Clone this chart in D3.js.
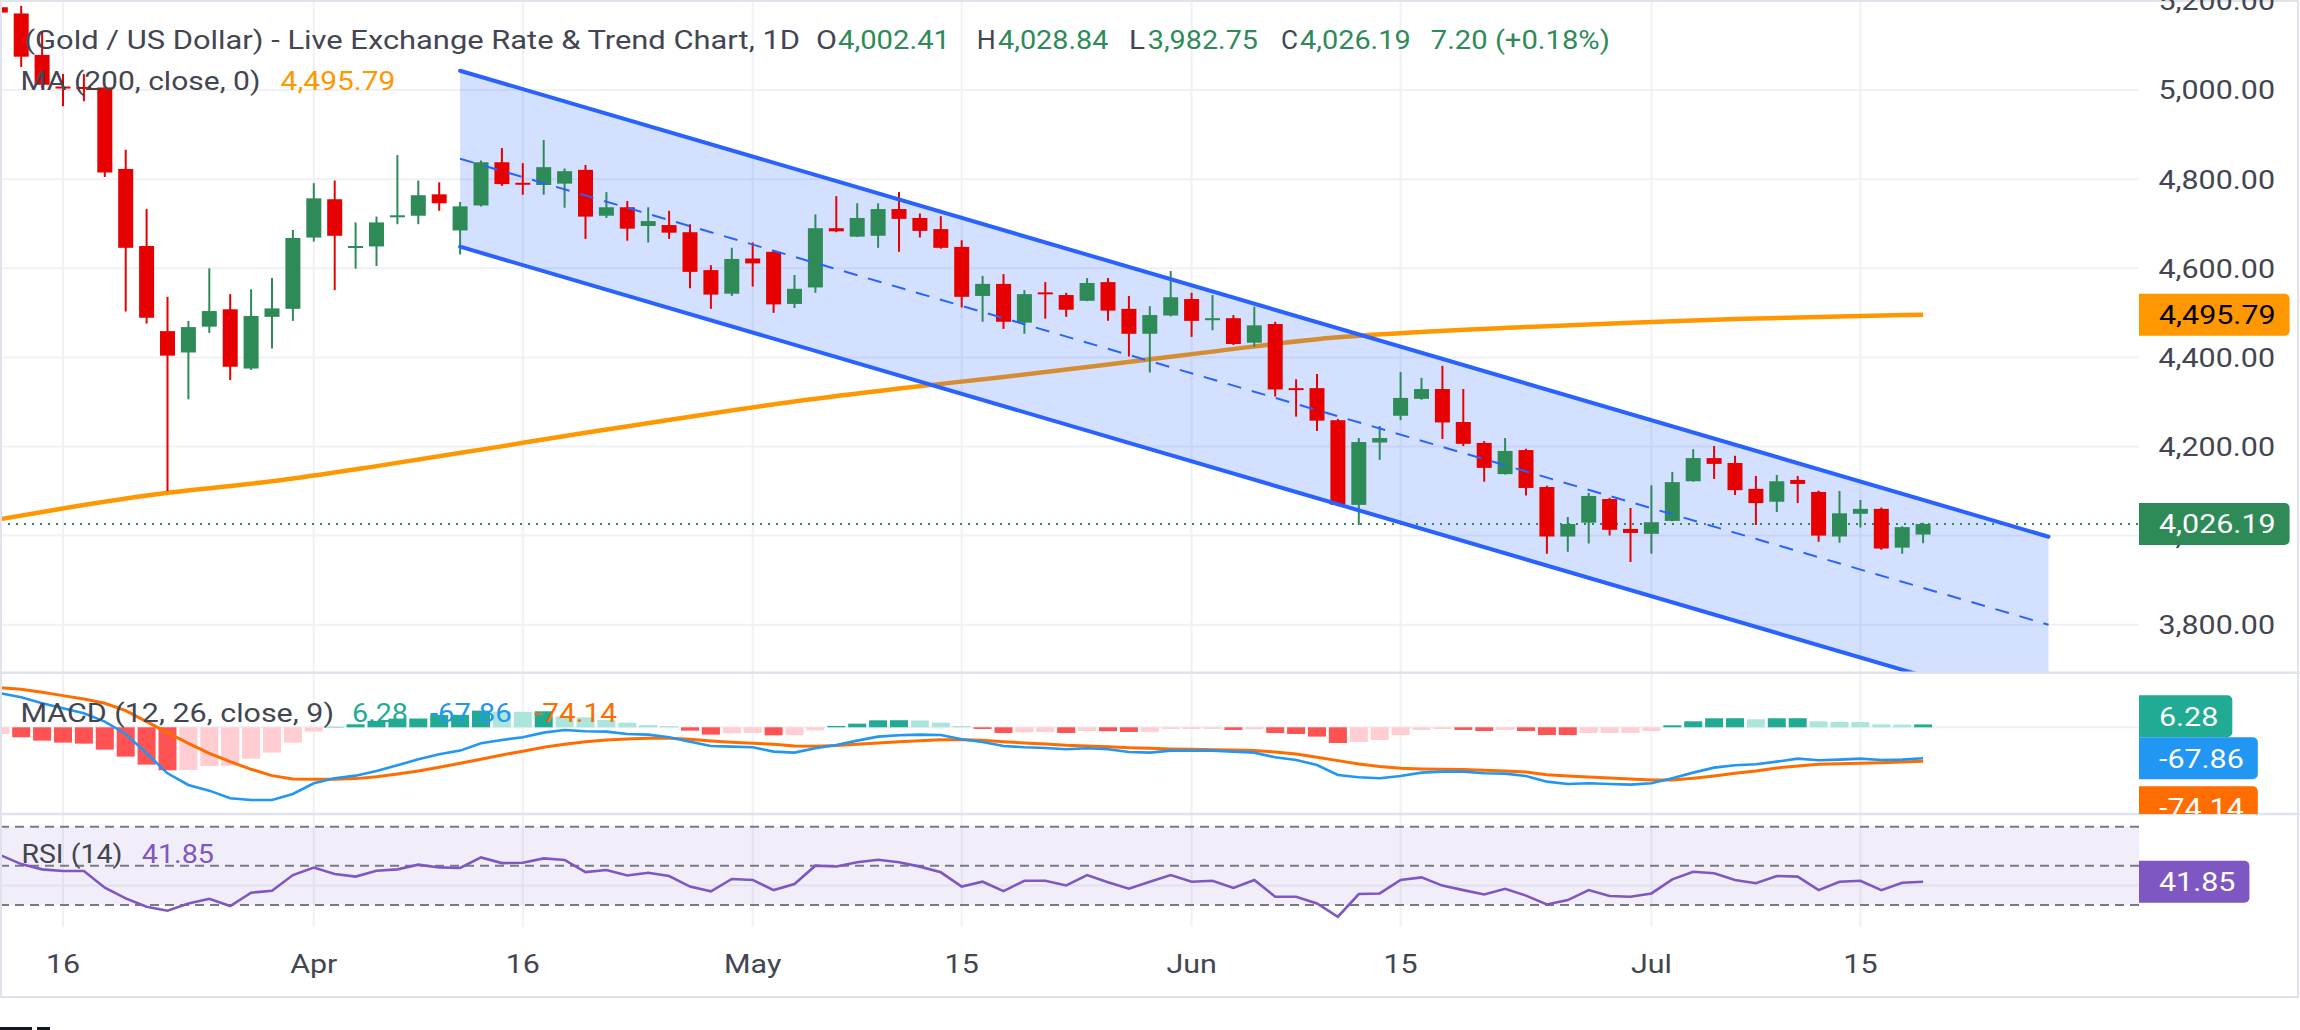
<!DOCTYPE html>
<html lang="en">
<head>
<meta charset="UTF-8">
<title>Gold / US Dollar - Daily</title>
<script src="https://cdn.jsdelivr.net/npm/d3@7/dist/d3.min.js"></script>
<style>
  body { margin: 0; background: #fff; }
  svg { display: block; font-family: Roboto, "Noto Sans", sans-serif; font-size: 26px; }
</style>
</head>
<body>
<svg id="chart" width="2300" height="1030"></svg>
<script>
// trading days shown on the chart (2026)
const dates = [
  "2026-03-11","2026-03-12","2026-03-13","2026-03-16","2026-03-17","2026-03-18","2026-03-19","2026-03-20",
  "2026-03-23","2026-03-24","2026-03-25","2026-03-26","2026-03-27","2026-03-30","2026-03-31",
  "2026-04-01","2026-04-02","2026-04-06","2026-04-07","2026-04-08","2026-04-09","2026-04-10","2026-04-13",
  "2026-04-14","2026-04-15","2026-04-16","2026-04-17","2026-04-20","2026-04-21","2026-04-22","2026-04-23",
  "2026-04-24","2026-04-27","2026-04-28","2026-04-29","2026-04-30",
  "2026-05-01","2026-05-04","2026-05-05","2026-05-06","2026-05-07","2026-05-08","2026-05-11","2026-05-12",
  "2026-05-13","2026-05-14","2026-05-15","2026-05-18","2026-05-19","2026-05-20","2026-05-21","2026-05-22",
  "2026-05-25","2026-05-26","2026-05-27","2026-05-28","2026-05-29",
  "2026-06-01","2026-06-02","2026-06-03","2026-06-04","2026-06-05","2026-06-08","2026-06-09","2026-06-10",
  "2026-06-11","2026-06-12","2026-06-15","2026-06-16","2026-06-17","2026-06-18","2026-06-19","2026-06-22",
  "2026-06-23","2026-06-24","2026-06-25","2026-06-26","2026-06-29","2026-06-30",
  "2026-07-01","2026-07-02","2026-07-03","2026-07-06","2026-07-07","2026-07-08","2026-07-09","2026-07-10",
  "2026-07-13","2026-07-14","2026-07-15","2026-07-16","2026-07-17","2026-07-20"
];
// empty future slots the channel drawing runs into
const futureDates = ["2026-07-21","2026-07-22","2026-07-23","2026-07-24","2026-07-27","2026-07-28"];

const opens = [
  5186, 5172, 5079, 5008, 5007, 5006, 4823, 4650, 4459, 4411, 4469, 4508, 4375, 4491, 4509,
  4669, 4755, 4646, 4649, 4715, 4718, 4766, 4685, 4741, 4838, 4792, 4787, 4790, 4821, 4718, 4737, 4695, 4697, 4681, 4596, 4543,
  4622, 4637, 4520, 4557, 4690, 4671, 4673, 4733, 4713, 4688, 4648, 4538, 4565, 4478, 4546, 4540, 4527, 4569, 4509, 4453, 4494,
  4531, 4484, 4488, 4433, 4475, 4331, 4331, 4259, 4069, 4209, 4269, 4307, 4329, 4255, 4208, 4138, 4192, 4109, 3998, 4029, 4082, 4015,
  4004, 4033, 4122, 4174, 4163, 4105, 4076, 4125, 4098, 3998, 4049, 4060, 3973, 4002.41
];
const highs = [
  5190, 5189, 5131, 5036, 5036, 5010, 4866, 4733, 4536, 4482, 4600, 4542, 4553, 4578, 4686,
  4791, 4797, 4703, 4716, 4854, 4797, 4793, 4749, 4842, 4870, 4836, 4888, 4824, 4832, 4771, 4751, 4737, 4729, 4699, 4607, 4646,
  4658, 4640, 4585, 4721, 4762, 4746, 4746, 4771, 4723, 4717, 4663, 4583, 4587, 4551, 4569, 4545, 4578, 4578, 4538, 4515, 4594,
  4545, 4540, 4495, 4514, 4480, 4351, 4363, 4262, 4219, 4246, 4367, 4354, 4381, 4329, 4212, 4219, 4195, 4112, 4042, 4096, 4085, 4062,
  4113, 4143, 4194, 4201, 4179, 4134, 4136, 4134, 4101, 4100, 4080, 4063, 4021, 4028.84
];
const lows = [
  5168, 5052, 5005, 4964, 4975, 4805, 4503, 4476, 4100, 4306, 4455, 4349, 4372, 4420, 4482,
  4660, 4551, 4599, 4605, 4699, 4699, 4729, 4631, 4739, 4785, 4765, 4765, 4736, 4666, 4713, 4662, 4658, 4666, 4555, 4509, 4538,
  4559, 4500, 4511, 4545, 4681, 4670, 4646, 4637, 4669, 4644, 4512, 4480, 4464, 4453, 4487, 4491, 4526, 4482, 4402, 4366, 4492,
  4446, 4461, 4428, 4424, 4312, 4267, 4235, 4066, 4024, 4170, 4259, 4305, 4217, 4201, 4121, 4137, 4090, 3959, 3964, 3982, 4000, 3941,
  3959, 4032, 4121, 4127, 4091, 4024, 4053, 4073, 3986, 3984, 4018, 3968, 3959, 3982.75
];
const closes = [
  5174, 5075, 5012, 5005, 5004, 4815, 4646, 4489, 4404, 4468, 4504, 4379, 4493, 4510, 4668,
  4757, 4673, 4650, 4703, 4719, 4764, 4746, 4739, 4838, 4789, 4790, 4827, 4818, 4716, 4737, 4689, 4706, 4680, 4592, 4541, 4621,
  4611, 4519, 4554, 4690, 4683, 4713, 4733, 4711, 4684, 4646, 4536, 4565, 4480, 4542, 4544, 4507, 4567, 4505, 4453, 4495, 4535,
  4482, 4488, 4430, 4472, 4328, 4328, 4258, 4069, 4210, 4219, 4309, 4329, 4254, 4206, 4152, 4190, 4107, 3998, 4026, 4089, 4013, 4006,
  4030, 4120, 4174, 4161, 4102, 4073, 4122, 4116, 4000, 4050, 4060, 3971, 4018.99, 4026.19
];

// 200-day moving average, read at a few dates
const maDates = ["2026-03-11","2026-03-16","2026-03-23","2026-03-30","2026-04-07","2026-04-14","2026-04-21",
  "2026-04-28","2026-05-05","2026-05-12","2026-05-19","2026-05-26","2026-06-02","2026-06-09","2026-06-16",
  "2026-06-23","2026-06-30","2026-07-07","2026-07-14","2026-07-20"];
const maValues = [4037, 4061, 4096, 4122, 4156, 4193, 4231, 4267, 4301, 4330, 4356, 4384, 4413, 4441, 4457,
  4468, 4478, 4486, 4492, 4495.79];

// descending parallel channel drawing
const channelDates = ["2026-04-13", "2026-07-28"];
const channelUpper = [5043.5, 3997.5];
const channelMid = [4846, 3800];
const channelLower = [4648.5, 3602.5];

// MACD (12, 26, close, 9)
const macdLine = [
  74.4, 65.6, 52.5, 41.6, 30.6, 12.4, -14.6, -56.9, -100.7, -126.2, -138.6, -155.4, -159, -159, -145.9,
  -122.5, -111.6, -105.8, -95.5, -83.2, -70, -59, -51, -35, -27.7, -21.9, -11.7, -5.8, -8.8, -9.5, -14.6, -16, -21.9, -31.4, -40.8, -42.3,
  -43.8, -53.2, -55.4, -46, -38.7, -29.2, -20.4, -17.5, -16, -16.8, -26.3, -32, -40.8, -43.8, -45.2, -48.1, -46, -48.1, -54, -55.4, -51,
  -51, -51, -53.2, -55.4, -65.6, -71.5, -82.4, -104.3, -109.4, -111.6, -106.5, -99.2, -97, -97, -100.7, -101.4, -106.5, -118.9, -124, -122.5, -124, -125.5,
  -122.5, -111.6, -99.2, -88.3, -83.2, -81, -75.1, -68.6, -72.2, -70.8, -68.6, -71.5, -70.8, -67.86
];
const signalLine = [
  86.8, 83.2, 76.6, 69.3, 62, 52.5, 36.5, 12.4, -11.7, -35, -56.9, -75.1, -91.9, -105.8, -113,
  -113.8, -113.8, -112.3, -108, -102, -95.5, -87.5, -78.8, -70, -60.5, -52.5, -43.8, -37.2, -31.4, -27.7, -25.5, -24.1, -24.1, -26.3, -29.9, -32.8,
  -35, -37.2, -40.8, -41.6, -40, -37.2, -34.3, -31.4, -29.2, -27, -27, -28.4, -31.4, -34.3, -36.5, -39.4, -40.8, -42.3, -44.5, -46, -47.4,
  -48.1, -48.9, -49.6, -51, -54, -58.4, -65.6, -72.9, -80.2, -86, -89.7, -91.2, -91.9, -92.6, -94.1, -95.5, -97.7, -103.6, -106.5, -108.7, -110.9, -113,
  -115.2, -115.2, -111.6, -106.5, -100.7, -95.5, -89, -84.6, -81, -79.5, -78.8, -77.3, -75.9, -74.14
];
const macdHist = [
  -14.6, -21.9, -29.2, -33.5, -35.7, -48.9, -64.2, -81.7, -94.1, -93.4, -85, -84, -68.6, -55.4, -33.5,
  -9.5, 1, 6.6, 13.9, 19, 19.2, 27, 27.2, 36.5, 34.3, 34, 35, 23.3, 21.9, 16, 10.2, 5.1, 2.9, -7.3, -16, -13.1,
  -12.5, -17.5, -17, -6.6, 3, 8, 15.3, 15.5, 15, 10.2, 2.9, -3.6, -12.4, -11, -10.5, -12.4, -8, -8.5, -10.2, -10, -3.6,
  -3.5, -3.4, -5.8, -4.4, -12.4, -14.6, -20.4, -34.3, -32, -27.7, -16.8, -5.8, -3.6, -5.8, -8, -5.8, -8, -16.8, -17, -12.4, -12.3, -12.2,
  -8, 4.4, 13.1, 19.7, 19.9, 17.5, 19.7, 19.9, 13.1, 11.7, 11.5, 6.6, 6.0, 6.28
];

// RSI (14)
const rsiValues = [
  55.5, 50.9, 48.2, 47.4, 47.4, 38.8, 33.4, 29.1, 27.1, 30.8, 33.2, 29.5, 36.3, 37.3, 45.3,
  49.1, 45.8, 44.5, 47.5, 48.2, 50.6, 49.2, 48.9, 54.3, 51.4, 51.6, 53.8, 53, 46.8, 47.9, 45.1, 46.5, 44.8, 39.4, 37, 43.3,
  42.8, 37.6, 40.7, 50.1, 49.7, 51.8, 53.1, 51.8, 49.6, 46.7, 39.4, 41.9, 37.1, 42.4, 42.4, 40, 45.3, 41.6, 38.3, 41.9, 45.3,
  41.9, 42.4, 38.7, 42.8, 34.2, 34.2, 30.8, 24, 35.6, 35.9, 42.8, 44.1, 39.9, 37.6, 35.4, 38.3, 34.8, 30.3, 32.5, 37.6, 34.6, 34.2,
  35.9, 43.1, 47, 46.2, 42.8, 41.1, 44.8, 44.5, 37.6, 41.9, 42.4, 37.6, 41.4, 41.85
];

const timeTickDates = ["2026-03-16","2026-04-01","2026-04-16","2026-05-01","2026-05-15","2026-06-01","2026-06-15","2026-07-01","2026-07-15"];
const timeTickLabels = ["16", "Apr", "16", "May", "15", "Jun", "15", "Jul", "15"];
const priceTicks = [3800, 4000, 4200, 4400, 4600, 4800, 5000, 5200];

// ---------- layout ----------
const plotRight = 2139;
const mainBottom = 672.7, macdBottom = 814, rsiBottom = 927, axisBottom = 997;
const K = 1.17;              // horizontal stretch of the screenshot text
const textGray = "#434651", gridColor = "#eff1f5", sepColor = "#e0e3eb";
const upColor = "#2e8b57", downColor = "#e60000";
const fmt = d3.format(",.2f");

const svg = d3.select("#chart");

const x = d3.scalePoint().domain(dates.concat(futureDates)).range([0.3, 2048.5]);
const yPrice = d3.scaleLinear().domain([3800, 4600]).range([624.7, 268.3]);
const yMacd = d3.scaleLinear().domain([-100, 0]).range([773, 727.3]);
const yRsi = d3.scaleLinear().domain([30, 70]).range([905, 826.7]);

const bars = dates.map((d, i) => ({ date: d, o: opens[i], h: highs[i], l: lows[i], c: closes[i] }));

function stretch(sel) {
  sel.each(function () {
    const w = this.getComputedTextLength();
    d3.select(this).attr("textLength", w * K).attr("lengthAdjust", "spacingAndGlyphs");
  });
  return sel;
}

const defs = svg.append("defs");
[["clipMain", 0, mainBottom], ["clipMacd", mainBottom, macdBottom], ["clipRsi", macdBottom, rsiBottom]]
  .forEach(([id, y0, y1]) => {
    defs.append("clipPath").attr("id", id).append("rect")
      .attr("x", 0).attr("y", y0).attr("width", plotRight).attr("height", y1 - y0);
  });
defs.append("clipPath").attr("id", "clipMacdAxis").append("rect")
  .attr("x", 0).attr("y", mainBottom).attr("width", 2300).attr("height", macdBottom - mainBottom);

// ---------- grid ----------
const grid = svg.append("g").attr("stroke", gridColor).attr("stroke-width", 2);
grid.selectAll(".hg").data(priceTicks).join("line")
  .attr("x1", 0).attr("x2", plotRight)
  .attr("y1", d => yPrice(d)).attr("y2", d => yPrice(d))
  .attr("clip-path", "url(#clipMain)");
grid.selectAll(".vg").data(timeTickDates).join("line")
  .attr("x1", d => x(d)).attr("x2", d => x(d))
  .attr("y1", 0).attr("y2", rsiBottom);
grid.append("line").attr("x1", 0).attr("x2", plotRight).attr("y1", yMacd(0)).attr("y2", yMacd(0));
grid.append("line").attr("x1", 0).attr("x2", plotRight).attr("y1", yRsi(40)).attr("y2", yRsi(40));

// ---------- main pane ----------
const main = svg.append("g").attr("clip-path", "url(#clipMain)");

const maPts = maDates.map((d, i) => ({ date: d, v: maValues[i] }));
main.append("path")
  .attr("d", d3.line().x(d => x(d.date)).y(d => yPrice(d.v)).curve(d3.curveMonotoneX)(maPts))
  .attr("fill", "none").attr("stroke", "#ff9800").attr("stroke-width", 4.5);

const chX0 = x(channelDates[0]), chX1 = x(channelDates[1]);
main.append("path")
  .attr("d", `M${chX0},${yPrice(channelUpper[0])}L${chX1},${yPrice(channelUpper[1])}` +
             `L${chX1},${yPrice(channelLower[1])}L${chX0},${yPrice(channelLower[0])}Z`)
  .attr("fill", "rgba(41,98,255,0.2)");

main.append("line")
  .attr("x1", 0).attr("x2", plotRight)
  .attr("y1", yPrice(closes[closes.length - 1])).attr("y2", yPrice(closes[closes.length - 1]))
  .attr("stroke", upColor).attr("stroke-width", 2).attr("stroke-dasharray", "2,6");

const candle = main.selectAll(".candle").data(bars).join("g")
  .attr("fill", d => d.c >= d.o ? upColor : downColor)
  .attr("stroke", d => d.c >= d.o ? upColor : downColor);
candle.append("line")
  .attr("x1", d => x(d.date)).attr("x2", d => x(d.date))
  .attr("y1", d => yPrice(d.h)).attr("y2", d => yPrice(d.l))
  .attr("stroke-width", 2);
candle.append("rect")
  .attr("stroke", "none")
  .attr("x", d => x(d.date) - 7.5).attr("width", 15)
  .attr("y", d => yPrice(Math.max(d.o, d.c)))
  .attr("height", d => Math.max(2, Math.abs(yPrice(d.o) - yPrice(d.c))));

[channelUpper, channelLower].forEach(ch => {
  main.append("line")
    .attr("x1", chX0).attr("y1", yPrice(ch[0])).attr("x2", chX1).attr("y2", yPrice(ch[1]))
    .attr("stroke", "#2962ff").attr("stroke-width", 4).attr("stroke-linecap", "round");
});
main.append("line")
  .attr("x1", chX0).attr("y1", yPrice(channelMid[0])).attr("x2", chX1).attr("y2", yPrice(channelMid[1]))
  .attr("stroke", "#2962ff").attr("stroke-width", 2).attr("stroke-dasharray", "14,11");

// ---------- MACD pane ----------
const macdG = svg.append("g").attr("clip-path", "url(#clipMacd)");
function histColor(i) {
  const v = macdHist[i], prev = i > 0 ? macdHist[i - 1] : -Infinity;
  if (v >= 0) return prev < v ? "#22ab94" : "#ace5dc";
  return prev < v ? "#ffcdd2" : "#ff5252";
}
macdG.selectAll(".hist").data(macdHist).join("rect")
  .attr("x", (d, i) => x(dates[i]) - 9).attr("width", 18)
  .attr("y", d => Math.min(yMacd(d), yMacd(0)))
  .attr("height", d => Math.abs(yMacd(d) - yMacd(0)))
  .attr("fill", (d, i) => histColor(i));
[[signalLine, "#ff6d00", 3], [macdLine, "#2196f3", 2.6]].forEach(([arr, col, w]) => {
  macdG.append("path")
    .attr("d", d3.line().x((d, i) => x(dates[i])).y(d => yMacd(d))(arr))
    .attr("fill", "none").attr("stroke", col).attr("stroke-width", w);
});

// ---------- RSI pane ----------
const rsiG = svg.append("g").attr("clip-path", "url(#clipRsi)");
rsiG.append("rect")
  .attr("x", 0).attr("width", plotRight)
  .attr("y", yRsi(70)).attr("height", yRsi(30) - yRsi(70))
  .attr("fill", "rgba(126,87,194,0.1)");
rsiG.selectAll(".band").data([70, 50, 30]).join("line")
  .attr("x1", 0).attr("x2", plotRight)
  .attr("y1", d => yRsi(d)).attr("y2", d => yRsi(d))
  .attr("stroke", "#787b86").attr("stroke-width", 2).attr("stroke-dasharray", "9,6");
rsiG.append("path")
  .attr("d", d3.line().x((d, i) => x(dates[i])).y(d => yRsi(d))(rsiValues))
  .attr("fill", "none").attr("stroke", "#7e57c2").attr("stroke-width", 2.6);

// ---------- separators & frame ----------
[mainBottom, macdBottom].forEach(y => {
  svg.append("line").attr("x1", 0).attr("x2", 2300).attr("y1", y).attr("y2", y)
    .attr("stroke", sepColor).attr("stroke-width", 2.5);
});
svg.append("rect").attr("x", 1).attr("y", 1).attr("width", 2297).attr("height", axisBottom - 1)
  .attr("fill", "none").attr("stroke", sepColor).attr("stroke-width", 2);

// ---------- time axis ----------
stretch(svg.append("g").selectAll("text").data(timeTickDates).join("text")
  .attr("x", d => x(d)).attr("y", 973.3)
  .attr("text-anchor", "middle").attr("fill", textGray)
  .text((d, i) => timeTickLabels[i]));

// ---------- price axis ----------
stretch(svg.append("g").selectAll("text").data(priceTicks).join("text")
  .attr("x", 2275).attr("y", d => yPrice(d) + 9.3)
  .attr("text-anchor", "end").attr("fill", textGray)
  .text(d => fmt(d)));

function badge(parent, yc, label, fill, color) {
  const g = parent.append("g");
  const t = g.append("text").attr("y", yc + 9.3).attr("text-anchor", "end").attr("fill", color).text(label);
  const w = t.node().getComputedTextLength() * K;
  t.attr("textLength", w).attr("lengthAdjust", "spacingAndGlyphs");
  const x0 = plotRight, x1 = plotRight + 20 + w + 14, y0 = yc - 21, y1 = yc + 21, r = 5;
  g.insert("path", "text")
    .attr("d", `M${x0},${y0}H${x1 - r}A${r},${r} 0 0 1 ${x1},${y0 + r}V${y1 - r}A${r},${r} 0 0 1 ${x1 - r},${y1}H${x0}Z`)
    .attr("fill", fill);
  t.attr("x", x1 - 14);
}

const lastMa = maValues[maValues.length - 1];
const lastClose = closes[closes.length - 1];
badge(svg, yPrice(lastMa), fmt(lastMa), "#ff9800", "#000");
badge(svg, yPrice(lastClose), fmt(lastClose), upColor, "#fff");

const macdAxis = svg.append("g").attr("clip-path", "url(#clipMacdAxis)");
const lastMacd = macdLine[macdLine.length - 1];
const lastSignal = signalLine[signalLine.length - 1];
const lastHist = macdHist[macdHist.length - 1];
const macdY = yMacd(lastMacd);
badge(macdAxis, macdY - 42, lastHist.toFixed(2), "#22ab94", "#fff");
badge(macdAxis, macdY, lastMacd.toFixed(2), "#2196f3", "#fff");
badge(macdAxis, macdY + 49, lastSignal.toFixed(2), "#ff6d00", "#fff");

const lastRsi = rsiValues[rsiValues.length - 1];
badge(svg, yRsi(lastRsi), lastRsi.toFixed(2), "#7e57c2", "#fff");

// ---------- legends ----------
function legend(y, parts) {
  parts.forEach(p => {
    svg.append("text").attr("x", p.x).attr("y", y).attr("fill", p.color)
      .attr("textLength", p.w).attr("lengthAdjust", "spacingAndGlyphs").text(p.text);
  });
}
const last = bars[bars.length - 1];
const prevClose = closes[closes.length - 2];
const chg = last.c - prevClose;
legend(48.5, [
  { text: "(Gold / US Dollar) - Live Exchange Rate & Trend Chart, 1D", x: 24.5, w: 775.5, color: textGray },
  { text: "O", x: 816, w: 21, color: textGray },
  { text: fmt(last.o), x: 838, w: 112, color: upColor },
  { text: "H", x: 976.7, w: 19, color: textGray },
  { text: fmt(last.h), x: 998, w: 110.5, color: upColor },
  { text: "L", x: 1129, w: 16, color: textGray },
  { text: fmt(last.l), x: 1147.8, w: 110.2, color: upColor },
  { text: "C", x: 1281, w: 17, color: textGray },
  { text: fmt(last.c), x: 1300, w: 110.7, color: upColor },
  { text: `${chg.toFixed(2)} (+${(chg / prevClose * 100).toFixed(2)}%)`, x: 1430.8, w: 179, color: upColor }
]);
legend(90, [
  { text: "MA (200, close, 0)", x: 20.4, w: 240, color: textGray },
  { text: fmt(lastMa), x: 280.6, w: 114.8, color: "#ff9800" }
]);
legend(721.7, [
  { text: "MACD (12, 26, close, 9)", x: 20.4, w: 313.6, color: textGray },
  { text: lastHist.toFixed(2), x: 352, w: 56, color: "#22ab94" },
  { text: lastMacd.toFixed(2), x: 430, w: 81.7, color: "#2196f3" },
  { text: lastSignal.toFixed(2), x: 534, w: 83, color: "#ff6d00" }
]);
legend(863.3, [
  { text: "RSI (14)", x: 21.4, w: 101, color: textGray },
  { text: lastRsi.toFixed(2), x: 141.8, w: 72.2, color: "#7e57c2" }
]);

// logo edge peeking in at the bottom
svg.append("rect").attr("x", 0).attr("y", 1027).attr("width", 32).attr("height", 3).attr("fill", "#131722");
svg.append("rect").attr("x", 37).attr("y", 1027).attr("width", 13).attr("height", 3).attr("fill", "#131722");
</script>
</body>
</html>
